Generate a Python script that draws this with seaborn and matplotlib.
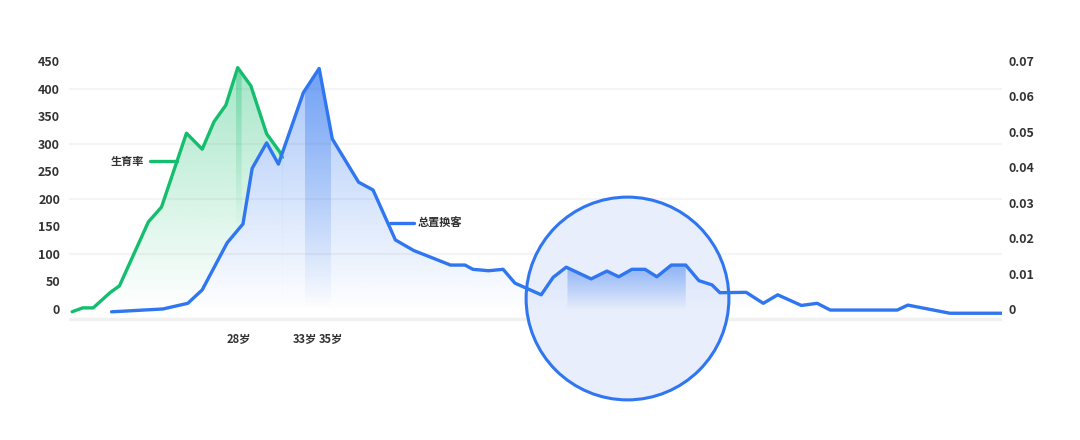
import numpy as np
import matplotlib
matplotlib.use('Agg')
import matplotlib.pyplot as plt
import seaborn as sns
from matplotlib.colors import to_rgb
from matplotlib.patches import Polygon

# 生育率 (left axis)
birth_age = [15.3, 16.1, 16.9, 18.2, 18.9, 21.1, 22.1, 24.0, 25.2, 26.1, 27.0,
             27.9, 28.9, 30.1, 31.1, 31.3]
birth_rate = [-5, 2, 2, 30, 42, 158, 185, 319, 290, 340, 370, 438, 405, 318,
              285, 275]

# 总置换客 (right axis)
swap_age = [18.3, 22.2, 24.1, 25.2, 27.1, 28.3, 29.0, 30.1, 31.0, 32.9, 34.1,
            35.1, 37.1, 38.2, 39.9, 41.3, 44.1, 45.2, 45.8, 47.0, 48.1, 49.0,
            51.0, 51.9, 52.9, 54.8, 56.0, 56.9, 57.9, 58.9, 59.8, 60.9, 62.0,
            63.0, 64.0, 64.6, 66.6, 67.9, 69.0, 70.8, 72.0, 73.0, 78.1, 78.9,
            82.1, 86.1]
swap_rate = [-0.0008, 0.0, 0.0016, 0.0054, 0.0187, 0.0240, 0.0397, 0.0469,
             0.0409, 0.0611, 0.0679, 0.0480, 0.0358, 0.0336, 0.0195, 0.0165,
             0.0124, 0.0124, 0.0112, 0.0108, 0.0112, 0.0073, 0.0040, 0.0089,
             0.0118, 0.0085, 0.0107, 0.0091, 0.0112, 0.0112, 0.0091, 0.0124,
             0.0124, 0.0080, 0.0068, 0.0046, 0.0047, 0.0016, 0.0040, 0.0010,
             0.0016, -0.0003, -0.0003, 0.0011, -0.0012, -0.0012]

left_ticks = [0, 50, 100, 150, 200, 250, 300, 350, 400, 450]
grid_lines = [100, 200, 300, 400]
right_ticks = [0, 0.01, 0.02, 0.03, 0.04, 0.05, 0.06, 0.07]
right_labels = ['0', '0.01', '0.02', '0.03', '0.04', '0.05', '0.06', '0.07']
age_ticks = [28, 33, 35, 53, 62]
age_labels = ['28岁', '33岁', '35岁', '53岁', '62岁']

GREEN = '#14be6e'
BLUE = '#2f76f0'
TEXT = '#333333'
GRID = '#f4f4f4'

sns.set_theme(style='white')
plt.rcParams['font.family'] = ['Noto Sans CJK SC', 'DejaVu Sans']


def area_patch(ax, xs, ys, base, color='none', zorder=1):
    verts = np.column_stack([np.r_[xs[0], xs, xs[-1]], np.r_[base, ys, base]])
    poly = Polygon(verts, closed=True, facecolor=color, edgecolor='none',
                   zorder=zorder)
    ax.add_patch(poly)
    return poly


def gradient_fill(ax, xs, ys, base, color, a_top, a_bot, top=None, zorder=1):
    xs = np.asarray(xs, float)
    ys = np.asarray(ys, float)
    if top is None:
        top = ys.max()
    grad = np.zeros((256, 1, 4))
    grad[..., :3] = to_rgb(color)
    grad[..., 3] = np.linspace(a_bot, a_top, 256)[:, None]
    im = ax.imshow(grad, extent=[xs.min(), xs.max(), base, top], origin='lower',
                   aspect='auto', zorder=zorder, interpolation='bilinear')
    poly = area_patch(ax, xs, ys, base)
    poly.set_visible(False)
    im.set_clip_path(poly)


def band(x, y, a, b):
    x = np.asarray(x, float)
    inner = x[(x > a) & (x < b)]
    xs = np.r_[a, inner, b]
    return xs, np.interp(xs, x, y)


fig = plt.figure(figsize=(10.8, 4.4), dpi=100)
ax = fig.add_axes([69 / 1080, 112 / 440, 933 / 1080, 298 / 440])
ax2 = ax.twinx()

k = 0.07 / 450
ylim = (-34.5, 506.3)
xlim = (15.06, 86.07)

# grid + baseline
for g in grid_lines:
    ax.axhline(g, color=GRID, lw=1.5, zorder=0)
ax.axhline(-18, color='#f0f0f0', lw=2.5, zorder=0)

# green series
gradient_fill(ax, birth_age, birth_rate, 0, GREEN, 0.38, 0.0, zorder=1)
bx, by = band(birth_age, birth_rate, 27.75, 28.2)
gradient_fill(ax, bx, by, 140, GREEN, 0.35, 0.0, zorder=2)
sns.lineplot(x=birth_age, y=birth_rate, ax=ax, color=GREEN, lw=2.4,
             sort=False, zorder=3)
ax.plot([21.2, 23.25], [268, 268], color=GREEN, lw=2.4, zorder=3)
ax.text(20.75, 268, '生育率', ha='right', va='center', fontsize=8,
        fontweight='bold', color=TEXT)

# blue area hides the green one where they overlap
ux, uy = band(swap_age, swap_rate, swap_age[0], birth_age[-1])
under = area_patch(ax2, ux, uy, -0.0008, color='white', zorder=0.3)
for g in grid_lines:
    gl = ax2.axhline(g * k, color=GRID, lw=1.5, zorder=0.4)
    gl.set_clip_path(under)

# highlight circle
ax2.plot([57.5], [20 * k], marker='o', ms=146, mfc='#e8eefc', mec=BLUE,
         mew=2.2, clip_on=False, zorder=0.5)

# blue series
gradient_fill(ax2, swap_age, swap_rate, -0.0008, BLUE, 0.42, 0.0, zorder=1)
for a, b in [(33, 35), (53, 62)]:
    sx, sy = band(swap_age, swap_rate, a, b)
    gradient_fill(ax2, sx, sy, -0.0003, BLUE, 0.45, 0.0,
                  top=max(sy), zorder=2)
sns.lineplot(x=swap_age, y=swap_rate, ax=ax2, color=BLUE, lw=2.4,
             sort=False, zorder=3)
ax2.plot([39.5, 41.35], [0.0243, 0.0243], color=BLUE, lw=2.4, zorder=3)
ax2.text(41.6, 0.0243, '总置换客', ha='left', va='center', fontsize=8,
         fontweight='bold', color=TEXT)

ax.set_xlim(*xlim)
ax.set_ylim(*ylim)
ax2.set_ylim(ylim[0] * k, ylim[1] * k)

ax.set_yticks(left_ticks)
ax.set_yticklabels([str(t) for t in left_ticks])
ax2.set_yticks(right_ticks)
ax2.set_yticklabels(right_labels)
ax.set_xticks(age_ticks)
ax.set_xticklabels(age_labels)

ax.tick_params(axis='y', length=0, pad=6.5, labelsize=9, labelcolor=TEXT)
ax2.tick_params(axis='y', length=0, pad=4.5, labelsize=9, labelcolor=TEXT)
ax.tick_params(axis='x', length=0, pad=3.5, labelsize=8, labelcolor=TEXT)
for lbl in ax.get_yticklabels() + ax2.get_yticklabels() + ax.get_xticklabels():
    lbl.set_fontweight('bold')

for a in (ax, ax2):
    for s in a.spines.values():
        s.set_visible(False)
    a.set_xlabel('')
    a.set_ylabel('')
    a.grid(False)
ax.patch.set_visible(False)

fig.savefig('out.png', dpi=100, facecolor='white')
